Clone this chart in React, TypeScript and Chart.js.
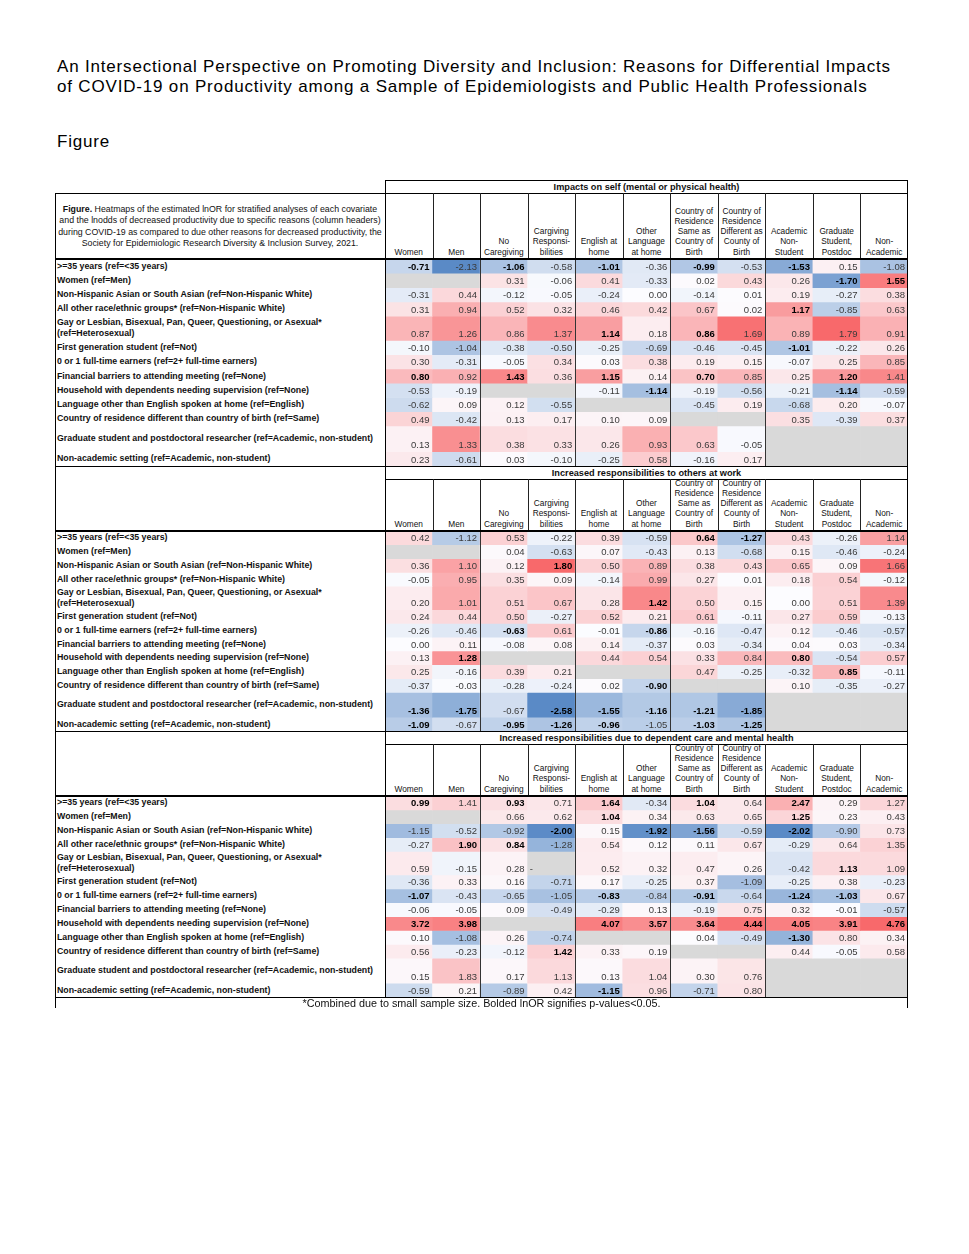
import React, { useEffect, useRef } from "react";
import { Chart, registerables } from "chart.js";

Chart.register(...registerables);

// ---------------- text ----------------
const titleLines = [
  "An Intersectional Perspective on Promoting Diversity and Inclusion: Reasons for Differential Impacts",
  "of COVID-19 on Productivity among a Sample of Epidemiologists and Public Health Professionals",
];
const figureLabel = "Figure";
const captionLines = [
  "and the lnodds of decreased productivity due to specific reasons (column headers)",
  "during COVID-19 as compared to due other reasons for decreased productivity, the",
  "Society for Epidemiologic Research Diversity & Inclusion Survey, 2021.",
];
const captionLead = "Figure.";
const captionFirstRest = " Heatmaps of the estimated lnOR for stratified analyses of each covariate";
const footnote = "*Combined due to small sample size. Bolded lnOR signifies p-values<0.05.";

const columnHeaders: string[][] = [
  ["Women"],
  ["Men"],
  ["No", "Caregiving"],
  ["Cargiving", "Responsi-", "bilities"],
  ["English at", "home"],
  ["Other", "Language", "at home"],
  ["Country of", "Residence", "Same as", "Country of", "Birth"],
  ["Country of", "Residence", "Different as", "County of", "Birth"],
  ["Academic", "Non-", "Student"],
  ["Graduate", "Student,", "Postdoc"],
  ["Non-", "Academic"],
];
const columnGroupEnds = [1, 3, 5, 7];

const rowLabels: string[][] = [
  [">=35 years  (ref=<35 years)"],
  ["Women (ref=Men)"],
  ["Non-Hispanic Asian or South Asian (ref=Non-Hispanic White)"],
  ["All other race/ethnic groups* (ref=Non-Hispanic White)"],
  ["Gay or Lesbian, Bisexual, Pan, Queer, Questioning, or Asexual*", "(ref=Heterosexual)"],
  ["First generation student (ref=Not)"],
  ["0 or 1 full-time earners (ref=2+ full-time earners)"],
  ["Financial barriers to attending meeting (ref=None)"],
  ["Household with dependents needing supervision (ref=None)"],
  ["Language other than English spoken at home (ref=English)"],
  ["Country of residence different than country of birth (ref=Same)"],
  ["Graduate student and postdoctoral researcher (ref=Academic, non-student)"],
  ["Non-academic setting (ref=Academic, non-student)"],
];

const sectionTitles = [
  "Impacts on self (mental or physical health)",
  "Increased responsibilities to others at work",
  "Increased responsibilities due to dependent care and mental health",
];

// ---------------- data ----------------
type V = number | null;
const selfValues: V[][] = [
  [-0.71, -2.13, -1.06, -0.58, -1.01, -0.36, -0.99, -0.53, -1.53, 0.15, -1.08],
  [null, null, 0.31, -0.06, 0.41, -0.33, 0.02, 0.43, 0.26, -1.70, 1.55],
  [-0.31, 0.44, -0.12, -0.05, -0.24, 0.00, -0.14, 0.01, 0.19, -0.27, 0.38],
  [0.31, 0.94, 0.52, 0.32, 0.46, 0.42, 0.67, 0.02, 1.17, -0.85, 0.63],
  [0.87, 1.26, 0.86, 1.37, 1.14, 0.18, 0.86, 1.69, 0.89, 1.79, 0.91],
  [-0.10, -1.04, -0.38, -0.50, -0.25, -0.69, -0.46, -0.45, -1.01, -0.22, 0.26],
  [0.30, -0.31, -0.05, 0.34, 0.03, 0.38, 0.19, 0.15, -0.07, 0.25, 0.85],
  [0.80, 0.92, 1.43, 0.36, 1.15, 0.14, 0.70, 0.85, 0.25, 1.20, 1.41],
  [-0.53, -0.19, null, null, -0.11, -1.14, -0.19, -0.56, -0.21, -1.14, -0.59],
  [-0.62, 0.09, 0.12, -0.55, null, null, -0.45, 0.19, -0.68, 0.20, -0.07],
  [0.49, -0.42, 0.13, 0.17, 0.10, 0.09, null, null, 0.35, -0.39, 0.37],
  [0.13, 1.33, 0.38, 0.33, 0.26, 0.93, 0.63, -0.05, null, null, null],
  [0.23, -0.61, 0.03, -0.10, -0.25, 0.58, -0.16, 0.17, null, null, null],
];
const selfBold: number[][] = [
  [0, 2, 4, 6, 8], [9, 10], [], [8], [4, 6], [8], [], [0, 2, 4, 6, 9], [5, 9], [], [], [], [],
];

const workValues: V[][] = [
  [0.42, -1.12, 0.53, -0.22, 0.39, -0.59, 0.64, -1.27, 0.43, -0.26, 1.14],
  [null, null, 0.04, -0.63, 0.07, -0.43, 0.13, -0.68, 0.15, -0.46, -0.24],
  [0.36, 1.10, 0.12, 1.80, 0.50, 0.89, 0.38, 0.43, 0.65, 0.09, 1.66],
  [-0.05, 0.95, 0.35, 0.09, -0.14, 0.99, 0.27, 0.01, 0.18, 0.54, -0.12],
  [0.20, 1.01, 0.51, 0.67, 0.28, 1.42, 0.50, 0.15, 0.00, 0.51, 1.39],
  [0.24, 0.44, 0.50, -0.27, 0.52, 0.21, 0.61, -0.11, 0.27, 0.59, -0.13],
  [-0.26, -0.46, -0.63, 0.61, -0.01, -0.86, -0.16, -0.47, 0.12, -0.46, -0.57],
  [0.00, 0.11, -0.08, 0.08, 0.14, -0.37, 0.03, -0.34, 0.04, 0.03, -0.34],
  [0.13, 1.28, null, null, 0.44, 0.54, 0.33, 0.84, 0.80, -0.54, 0.57],
  [0.25, -0.16, 0.39, 0.21, null, null, 0.47, -0.25, -0.32, 0.85, -0.11],
  [-0.37, -0.03, -0.28, -0.24, 0.02, -0.90, null, null, 0.10, -0.35, -0.27],
  [-1.36, -1.75, -0.67, -2.58, -1.55, -1.16, -1.21, -1.85, null, null, null],
  [-1.09, -0.67, -0.95, -1.26, -0.96, -1.05, -1.03, -1.25, null, null, null],
];
const workBold: number[][] = [
  [6, 7], [], [3], [], [5], [], [2, 5], [], [1, 8], [9], [5], [0, 1, 3, 4, 5, 6, 7], [0, 2, 3, 4, 6, 7],
];

const careValues: V[][] = [
  [0.99, 1.41, 0.93, 0.71, 1.64, -0.34, 1.04, 0.64, 2.47, 0.29, 1.27],
  [null, null, 0.66, 0.62, 1.04, 0.34, 0.63, 0.65, 1.25, 0.23, 0.43],
  [-1.15, -0.52, -0.92, -2.00, 0.15, -1.92, -1.56, -0.59, -2.02, -0.90, 0.73],
  [-0.27, 1.90, 0.84, -1.28, 0.54, 0.12, 0.11, 0.67, -0.29, 0.64, 1.35],
  [0.59, -0.15, 0.28, null, 0.52, 0.32, 0.47, 0.26, -0.42, 1.13, 1.09],
  [-0.36, 0.33, 0.16, -0.71, 0.17, -0.25, 0.37, -1.09, -0.25, 0.38, -0.23],
  [-1.07, -0.43, -0.65, -1.05, -0.83, -0.84, -0.91, -0.64, -1.24, -1.03, 0.67],
  [-0.06, -0.05, 0.09, -0.49, -0.29, 0.13, -0.19, 0.75, 0.32, -0.01, -0.57],
  [3.72, 3.98, null, null, 4.07, 3.57, 3.64, 4.44, 4.05, 3.91, 4.76],
  [0.10, -1.08, 0.26, -0.74, null, null, 0.04, -0.49, -1.30, 0.80, 0.34],
  [0.56, -0.23, -0.12, 1.42, 0.33, 0.19, null, null, 0.44, -0.05, 0.58],
  [0.15, 1.83, 0.17, 1.13, 0.13, 1.04, 0.30, 0.76, null, null, null],
  [-0.59, 0.21, -0.89, 0.42, -1.15, 0.96, -0.71, 0.80, null, null, null],
];
const careBold: number[][] = [
  [0, 2, 4, 6, 8], [4, 8], [3, 5, 6, 8], [1, 2], [9], [], [0, 4, 6, 8, 9], [], [0, 1, 4, 5, 6, 7, 8, 9, 10], [8], [3], [], [4],
];
const careMarks: [number, number, string][] = [[4, 3, "-"]];

// ---------------- layout ----------------
const FONT = '"Liberation Sans", Arial, Helvetica, sans-serif';
const TABLE_LEFT = 55;
const LABEL_RIGHT = 385;
const TABLE_RIGHT = 908;
const DATA_WIDTH = TABLE_RIGHT - LABEL_RIGHT;
const ROW_UNITS = [1, 1, 1, 1, 1.7, 1, 1, 1, 1, 1, 1, 1.8, 1];
const sectionBoxes = [
  { titleTop: 180, headerTop: 193, dataTop: 259, dataBottom: 466 },
  { titleTop: 466, headerTop: 479, dataTop: 531, dataBottom: 731 },
  { titleTop: 731, headerTop: 744, dataTop: 796, dataBottom: 997 },
];
const sections = [
  { values: selfValues, bold: selfBold, marks: [] as [number, number, string][] },
  { values: workValues, bold: workBold, marks: [] as [number, number, string][] },
  { values: careValues, bold: careBold, marks: careMarks },
];

const rowBounds: number[] = ROW_UNITS.reduce((acc, u) => { acc.push(acc[acc.length - 1] + u); return acc; }, [0] as number[]);
const TOTAL_UNITS = rowBounds[rowBounds.length - 1];

const LOW = [90, 138, 198];
const MID = [252, 252, 255];
const HIGH = [248, 105, 107];
const NA_COLOR = "#d9d9d9";

function cellColor(v: V, min: number, max: number): string {
  if (v === null) return NA_COLOR;
  let end: number[];
  let t: number;
  if (v >= 0) { end = HIGH; t = max > 0 ? v / max : 0; } else { end = LOW; t = min < 0 ? v / min : 0; }
  const c = MID.map((m, i) => Math.round(m + (end[i] - m) * t));
  return `rgb(${c[0]},${c[1]},${c[2]})`;
}

function Rect({ x, y, w, h, c = "#000" }: { x: number; y: number; w: number; h: number; c?: string }) {
  return <div style={{ position: "absolute", left: x, top: y, width: w, height: h, background: c }} />;
}

function SectionChart({ idx }: { idx: number }) {
  const ref = useRef<HTMLCanvasElement>(null);
  const box = sectionBoxes[idx];
  const height = box.dataBottom - box.dataTop;
  useEffect(() => {
    const { values, bold, marks } = sections[idx];
    const all = values.flat().filter((v) => v !== null) as number[];
    const vmin = Math.min(...all);
    const vmax = Math.max(...all);
    const datasets = values.map((row, r) => ({
      label: rowLabels[r].join(" "),
      data: row.map(() => [rowBounds[r], rowBounds[r + 1]] as [number, number]),
      backgroundColor: row.map((v) => cellColor(v, vmin, vmax)),
      borderWidth: 0,
      grouped: false,
      barPercentage: 1,
      categoryPercentage: 1,
    }));
    const textPlugin = {
      id: "cellText",
      afterDatasetsDraw(chart: any) {
        const ctx = chart.ctx as CanvasRenderingContext2D;
        ctx.save();
        values.forEach((row, r) => {
          const meta = chart.getDatasetMeta(r);
          row.forEach((v, c) => {
            const el: any = meta.data[c];
            const bottom = Math.max(el.y, el.base);
            const right = el.x + el.width / 2;
            if (v !== null) {
              const isBold = bold[r].includes(c);
              ctx.font = `${isBold ? "bold " : ""}9.5px ${FONT}`;
              ctx.fillStyle = isBold ? "#000" : "#3a3a3a";
              ctx.textAlign = "right";
              ctx.textBaseline = "alphabetic";
              ctx.fillText(v.toFixed(2), right - 3, bottom - 3.5);
            }
          });
        });
        marks.forEach(([r, c, s]) => {
          const el: any = chart.getDatasetMeta(r).data[c];
          const bottom = Math.max(el.y, el.base);
          ctx.font = `9.5px ${FONT}`;
          ctx.fillStyle = "#3a3a3a";
          ctx.textAlign = "left";
          ctx.fillText(s, el.x - el.width / 2 + 2, bottom - 3.5);
        });
        const xs = chart.scales.x;
        const area = chart.chartArea;
        ctx.strokeStyle = "#333";
        ctx.lineWidth = 1;
        columnGroupEnds.forEach((g) => {
          const px = Math.round((xs.getPixelForValue(g) + xs.getPixelForValue(g + 1)) / 2) + 0.5;
          ctx.beginPath();
          ctx.moveTo(px, area.top);
          ctx.lineTo(px, area.bottom);
          ctx.stroke();
        });
        ctx.restore();
      },
    };
    const chart = new Chart(ref.current as HTMLCanvasElement, {
      type: "bar",
      data: { labels: columnHeaders.map((h) => h.join(" ")), datasets: datasets as any },
      options: {
        animation: false,
        responsive: false,
        maintainAspectRatio: false,
        devicePixelRatio: 1,
        events: [],
        layout: { padding: 0 },
        plugins: { legend: { display: false }, tooltip: { enabled: false }, title: { display: false } },
        scales: {
          x: { type: "category", display: false, offset: true },
          y: { type: "linear", display: false, reverse: true, min: 0, max: TOTAL_UNITS },
        },
      },
      plugins: [textPlugin],
    });
    return () => chart.destroy();
  }, [idx]);
  return (
    <canvas
      ref={ref}
      width={DATA_WIDTH}
      height={height}
      style={{ position: "absolute", left: LABEL_RIGHT, top: box.dataTop, width: DATA_WIDTH, height }}
    />
  );
}

function SectionFrame({ idx }: { idx: number }) {
  const box = sectionBoxes[idx];
  const colW = DATA_WIDTH / columnHeaders.length;
  const unitPx = (box.dataBottom - box.dataTop) / TOTAL_UNITS;
  const els: React.ReactNode[] = [];
  els.push(
    <div key="t" style={{ position: "absolute", left: LABEL_RIGHT, top: box.titleTop, width: DATA_WIDTH, height: box.headerTop - box.titleTop, display: "flex", alignItems: "center", justifyContent: "center", font: `bold 9.2px ${FONT}`, color: "#111", whiteSpace: "nowrap" }}>
      {sectionTitles[idx]}
    </div>
  );
  els.push(<Rect key="tt" x={LABEL_RIGHT} y={box.titleTop} w={DATA_WIDTH} h={1} />);
  els.push(<Rect key="tb" x={idx === 0 ? TABLE_LEFT : LABEL_RIGHT} y={box.headerTop} w={idx === 0 ? TABLE_RIGHT - TABLE_LEFT : DATA_WIDTH} h={1} />);
  columnHeaders.forEach((lines, c) => {
    const x = LABEL_RIGHT + c * colW;
    els.push(
      <div key={"h" + c} style={{ position: "absolute", left: x, top: box.headerTop + 1, width: colW, height: box.dataTop - box.headerTop - 1, display: "flex", flexDirection: "column", justifyContent: "flex-end", alignItems: "center", paddingBottom: 2, boxSizing: "border-box", font: `8.3px ${FONT}`, lineHeight: "10.3px", color: "#111", textAlign: "center", whiteSpace: "nowrap" }}>
        {lines.map((l, i) => <div key={i}>{l}</div>)}
      </div>
    );
    if (c > 0) els.push(<Rect key={"hv" + c} x={Math.round(x)} y={box.headerTop} w={1} h={box.dataTop - box.headerTop} c="#222" />);
  });
  rowLabels.forEach((lines, r) => {
    const top = box.dataTop + rowBounds[r] * unitPx;
    const h = ROW_UNITS[r] * unitPx;
    els.push(
      <div key={"r" + r} style={{ position: "absolute", left: TABLE_LEFT + 2, top, width: LABEL_RIGHT - TABLE_LEFT - 4, height: h, display: "flex", flexDirection: "column", justifyContent: "center", font: `bold 8.8px ${FONT}`, lineHeight: "11px", color: "#111", whiteSpace: "nowrap" }}>
        {lines.map((l, i) => <div key={i}>{l}</div>)}
      </div>
    );
  });
  els.push(<Rect key="dt" x={TABLE_LEFT} y={box.dataTop - 1} w={TABLE_RIGHT - TABLE_LEFT} h={2} />);
  els.push(<Rect key="db" x={TABLE_LEFT} y={box.dataBottom} w={TABLE_RIGHT - TABLE_LEFT} h={1} />);
  return <>{els}</>;
}

export default function App() {
  return (
    <div style={{ position: "absolute", left: 0, top: 0, width: 969, height: 1254, background: "#fff", overflow: "hidden", fontFamily: FONT, color: "#000" }}>
      <div style={{ position: "absolute", left: 57, top: 57, font: `17px ${FONT}`, lineHeight: "20px", letterSpacing: "0.82px", whiteSpace: "nowrap" }}>
        {titleLines.map((l, i) => <div key={i}>{l}</div>)}
      </div>
      <div style={{ position: "absolute", left: 57, top: 132, font: `17px ${FONT}`, lineHeight: "20px", letterSpacing: "0.82px" }}>{figureLabel}</div>

      <div style={{ position: "absolute", left: TABLE_LEFT, top: 204, width: LABEL_RIGHT - TABLE_LEFT, textAlign: "center", font: `8.8px ${FONT}`, lineHeight: "11.4px", color: "#111", whiteSpace: "nowrap" }}>
        <div><b>{captionLead}</b>{captionFirstRest}</div>
        {captionLines.map((l, i) => <div key={i}>{l}</div>)}
      </div>

      {sectionBoxes.map((_, i) => <SectionChart key={"c" + i} idx={i} />)}
      {sectionBoxes.map((_, i) => <SectionFrame key={"f" + i} idx={i} />)}

      <Rect x={TABLE_LEFT} y={193} w={1} h={1008 - 193} />
      <Rect x={LABEL_RIGHT} y={180} w={1} h={997 - 180} />
      <Rect x={TABLE_RIGHT - 1} y={180} w={1} h={1008 - 180} />

      <div style={{ position: "absolute", left: TABLE_LEFT, top: 997, width: TABLE_RIGHT - TABLE_LEFT, height: 13, textAlign: "center", font: `10.8px ${FONT}`, lineHeight: "13px", color: "#111", whiteSpace: "nowrap" }}>
        {footnote}
      </div>
    </div>
  );
}
